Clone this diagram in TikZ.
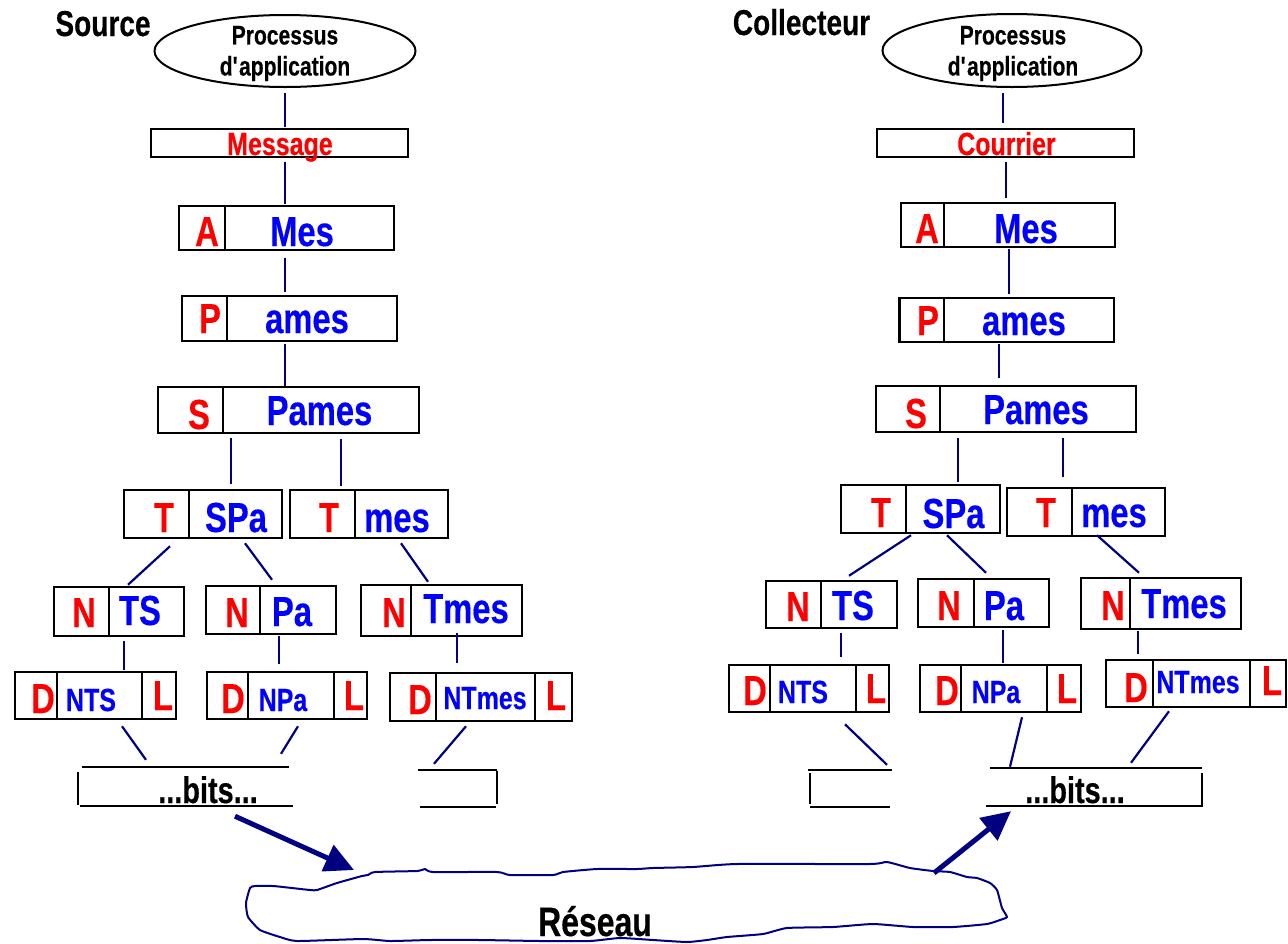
\documentclass[tikz,border=0pt]{standalone}
\usepackage{fontspec}
\setmainfont{Liberation Sans}[FakeStretch=0.78,FakeBold=0.35]
\usetikzlibrary{shapes.geometric,arrows.meta,calc}
\definecolor{navy}{RGB}{0,0,128}
\definecolor{pred}{RGB}{255,0,0}
\definecolor{pblue}{RGB}{0,0,255}
\newcommand\pbox[5]{\node[pbox, minimum width={(#4)-(#2)}, minimum height={(#5)-(#3)}] (#1) at ({((#2)+(#4))/2},{((#3)+(#5))/2}) {};}
\newcommand\pdiv[3]{\draw[pdiv] (#1,#2) -- (#1,#3);}
\begin{document}
\begin{tikzpicture}[x=1pt,y=-1pt,
  pbox/.style={draw=black, line width=2.5pt, inner sep=0pt, rectangle},
  pdiv/.style={draw=black, line width=2pt},
  frame/.style={draw=black, line width=2.5pt},
  conn/.style={draw=navy, line width=2.2pt},
  hR/.style={text=pred, font=\fontsize{42}{42}\selectfont\bfseries, inner sep=0pt, anchor=base},
  pB/.style={text=pblue, font=\fontsize{42}{42}\selectfont\bfseries, inner sep=0pt, anchor=base},
  sB/.style={text=pblue, font=\fontsize{32}{32}\selectfont\bfseries, inner sep=0pt, anchor=base},
  msg/.style={text=pred, font=\fontsize{32}{32}\selectfont\bfseries, inner sep=0pt, anchor=base},
  lbl/.style={text=black, font=\fontsize{36}{36}\selectfont\bfseries, inner sep=0pt, anchor=base},
  proc/.style={text=black, font=\fontsize{27}{31}\selectfont\bfseries, inner sep=0pt, align=center},
  bitst/.style={text=black, font=\fontsize{37}{37}\selectfont\bfseries, inner sep=0pt, anchor=base},
  nett/.style={text=black, font=\fontsize{41}{41}\selectfont\bfseries, inner sep=0pt, anchor=base},
  ell/.style={ellipse, draw=black, line width=2pt, inner sep=0pt},
  hidden/.style={inner sep=0pt, rectangle},
  bigarrow/.style={draw=navy, line width=5pt, -{Triangle[length=29pt,width=28pt]}}
]
\useasboundingbox (0,0) rectangle (1288,943);

% ================= LEFT : Source =================
\node[lbl] (srcL) at (103,36) {Source};
\node[ell, minimum width=261, minimum height=72] (ellL) at (285,51) {};
\node[proc] (procL) at (285,53.5) {Processus\\d\textquotesingle application};

\pbox{msgL}{151}{129}{408}{157}
\node[msg] (msgLt) at (280,155) {Message};

\pbox{aL}{179}{206}{394}{250}  \pdiv{225}{206}{250}
\node[hR] (aLh) at (207,246) {A};  \node[pB] (aLp) at (302,246) {Mes};

\pbox{pL}{182}{296}{397}{341}  \pdiv{227}{296}{341}
\node[hR] (pLh) at (210,333) {P};  \node[pB] (pLp) at (307,333) {ames};

\pbox{sL}{158}{387}{419}{433}  \pdiv{223}{387}{433}
\node[hR] (sLh) at (199,429) {S};  \node[pB] (sLp) at (319.5,425) {Pames};

\pbox{tsL}{124}{490}{282}{538}  \pdiv{189}{490}{538}
\node[hR] (tsLh) at (164,532) {T};  \node[pB] (tsLp) at (236,532) {SPa};
\pbox{tmL}{290}{490}{448}{538}  \pdiv{355}{490}{538}
\node[hR] (tmLh) at (329,532) {T};  \node[pB] (tmLp) at (397,532) {mes};

\pbox{ntsL}{54}{587}{184}{636}  \pdiv{109}{587}{636}
\node[hR] (ntsLh) at (84,627) {N};  \node[pB] (ntsLp) at (140,625) {TS};
\pbox{npaL}{206}{586}{336}{634}  \pdiv{260}{586}{634}
\node[hR] (npaLh) at (237,627) {N};  \node[pB] (npaLp) at (292,626) {Pa};
\pbox{ntmL}{361}{585}{522}{636}  \pdiv{411}{585}{636}
\node[hR] (ntmLh) at (394,627) {N};  \node[pB] (ntmLp) at (466,623) {Tmes};

\pbox{dntsL}{15}{672}{176}{719}  \pdiv{57}{672}{719} \pdiv{142}{672}{719}
\node[hR] (dntsLd) at (43,713) {D};  \node[sB] (dntsLp) at (91,711) {NTS};  \node[hR] (dntsLl) at (163,710) {L};
\pbox{dnpaL}{207}{672}{367}{719}  \pdiv{248}{672}{719} \pdiv{334}{672}{719}
\node[hR] (dnpaLd) at (233,713) {D};  \node[sB] (dnpaLp) at (283,711) {NPa};  \node[hR] (dnpaLl) at (354,710) {L};
\pbox{dntmL}{390}{673}{572}{721}  \pdiv{436}{673}{721} \pdiv{535}{673}{721}
\node[hR] (dntmLd) at (420,714) {D};  \node[sB] (dntmLp) at (485,709) {NTmes};  \node[hR] (dntmLl) at (556,710) {L};

\node[hidden, minimum width=213, minimum height=39] (bitsL) at (186.5,786.5) {};
\draw[frame] (82,767) -- (289,767);
\draw[frame] (78,772) -- (78,805);
\draw[frame] (80,806) -- (293,806);
\node[bitst] (bitsLt) at (208,803) {...bits...};
\node[hidden, minimum width=79, minimum height=37] (smallL) at (457.5,788.5) {};
\draw[frame] (418,770) -- (497,770);
\draw[frame] (497,771) -- (497,804);
\draw[frame] (420,807) -- (496,807);

% connectors left
\draw[conn] ($(ellL.south)+(0,5)$) -- ($(msgL.north)+(5.5,-1)$);
\draw[conn] ($(msgL.south)+(5.5,4)$) -- ($(aL.north)+(-1.5,-1)$);
\draw[conn] ($(aL.south)+(-1.5,7)$) -- ($(pL.north)+(-4.5,-3)$);
\draw[conn] ($(pL.south)+(-4.5,2)$) -- ($(sL.north)+(-3.5,0)$);
\draw[conn] ($(sL.south)+(-57.5,4)$) -- ($(tsL.north)+(28,-5)$);
\draw[conn] ($(sL.south)+(52.5,5)$) -- ($(tmL.north)+(-28,-3)$);
\draw[conn] ($(tsL.south)+(-33,7)$) -- ($(ntsL.north)+(9,-1)$);
\draw[conn] ($(tsL.south)+(42,4)$) -- ($(npaL.north)+(1,-5)$);
\draw[conn] ($(tmL.south)+(32,4)$) -- ($(ntmL.north)+(-13.5,-2)$);
\draw[conn] ($(ntsL.south)+(5,4)$) -- ($(dntsL.north)+(28.5,-1)$);
\draw[conn] ($(npaL.south)+(8,1)$) -- ($(dnpaL.north)+(-8,-7)$);
\draw[conn] ($(ntmL.south)+(15.5,-4)$) -- ($(dntmL.north)+(-24,-9)$);
\draw[conn] ($(dntsL.south)+(26.5,6)$) -- ($(bitsL.north)+(-40.5,-7)$);
\draw[conn] ($(dnpaL.south)+(11,6)$) -- ($(bitsL.north)+(94.5,-13)$);
\draw[conn] ($(dntmL.south)+(-15,4)$) -- ($(smallL.north)+(-23.5,-6)$);

% ================= RIGHT : Collecteur =================
\node[lbl] (srcR) at (801.5,35) {Collecteur};
\node[ell, minimum width=259, minimum height=73] (ellR) at (1012,50.5) {};
\node[proc] (procR) at (1013,53.5) {Processus\\d\textquotesingle application};

\pbox{msgR}{877}{129}{1134}{157}
\node[msg] (msgRt) at (1006.5,155) {Courrier};

\pbox{aR}{901}{203}{1115}{247}  \pdiv{944}{203}{247}
\node[hR] (aRh) at (927,243) {A};  \node[pB] (aRp) at (1026,243) {Mes};

\pbox{pR}{899.5}{298}{1114}{342}  \pdiv{944}{298}{342}
\node[hR] (pRh) at (928,335) {P};  \node[pB] (pRp) at (1024,335) {ames};

\pbox{sR}{876}{386}{1136}{432}  \pdiv{940}{386}{432}
\node[hR] (sRh) at (916,428) {S};  \node[pB] (sRp) at (1036,424) {Pames};

\pbox{tsR}{841}{485}{1000}{533}  \pdiv{906}{485}{533}
\node[hR] (tsRh) at (881,527) {T};  \node[pB] (tsRp) at (953.5,528) {SPa};
\pbox{tmR}{1007}{488}{1165}{536}  \pdiv{1072}{488}{536}
\node[hR] (tmRh) at (1046,527) {T};  \node[pB] (tmRp) at (1114,527) {mes};

\pbox{ntsR}{766}{581}{897}{628}  \pdiv{821}{581}{628}
\node[hR] (ntsRh) at (798,621) {N};  \node[pB] (ntsRp) at (853,620) {TS};
\pbox{npaR}{918}{579}{1049}{627}  \pdiv{974}{579}{627}
\node[hR] (npaRh) at (949,620) {N};  \node[pB] (npaRp) at (1004,620) {Pa};
\pbox{ntmR}{1081}{578}{1241}{629}  \pdiv{1130}{578}{629}
\node[hR] (ntmRh) at (1113,620) {N};  \node[pB] (ntmRp) at (1184,618) {Tmes};

\pbox{dntsR}{729}{665}{889}{712}  \pdiv{770}{665}{712} \pdiv{856}{665}{712}
\node[hR] (dntsRd) at (755,705) {D};  \node[sB] (dntsRp) at (803,703) {NTS};  \node[hR] (dntsRl) at (876,703) {L};
\pbox{dnpaR}{920}{665}{1081}{712}  \pdiv{961}{665}{712} \pdiv{1047}{665}{712}
\node[hR] (dnpaRd) at (947,705) {D};  \node[sB] (dnpaRp) at (996,703) {NPa};  \node[hR] (dnpaRl) at (1067,703) {L};
\pbox{dntmR}{1106}{660}{1286}{707}  \pdiv{1153}{660}{707} \pdiv{1250}{660}{707}
\node[hR] (dntmRd) at (1136,702) {D};  \node[sB] (dntmRp) at (1198,693) {NTmes};  \node[hR] (dntmRl) at (1272,695) {L};

\node[hidden, minimum width=84, minimum height=37] (smallR) at (850,788.5) {};
\draw[frame] (808,770) -- (892,770);
\draw[frame] (810,773) -- (810,804);
\draw[frame] (810,807) -- (890,807);
\node[hidden, minimum width=217, minimum height=38] (bitsR) at (1094.5,787) {};
\draw[frame] (990,768) -- (1202,768);
\draw[frame] (1202,773) -- (1202,806);
\draw[frame] (986,806) -- (1203,806);
\node[bitst] (bitsRt) at (1075,803) {...bits...};

% connectors right
\draw[conn] ($(ellR.south)+(-9,5)$) -- ($(msgR.north)+(-2.5,-5)$);
\draw[conn] ($(msgR.south)+(0.5,4)$) -- ($(aR.north)+(-2,-4)$);
\draw[conn] ($(aR.south)+(1,1)$) -- ($(pR.north)+(2.25,-3)$);
\draw[conn] ($(pR.south)+(-7.75,1)$) -- ($(sR.north)+(-7,-7)$);
\draw[conn] ($(sR.south)+(-48,5)$) -- ($(tsR.north)+(37.5,-2)$);
\draw[conn] ($(sR.south)+(57,5)$) -- ($(tmR.north)+(-23,-10)$);
\draw[conn] ($(tsR.south)+(-9.5,1)$) -- ($(ntsR.north)+(17.5,-4)$);
\draw[conn] ($(tsR.south)+(26.5,1)$) -- ($(npaR.north)+(2.5,-5)$);
\draw[conn] ($(tmR.south)+(11,-2)$) -- ($(ntmR.north)+(-22,-4)$);
\draw[conn] ($(ntsR.south)+(9.5,4)$) -- ($(dntsR.north)+(32,-7)$);
\draw[conn] ($(npaR.south)+(19.5,2)$) -- ($(dnpaR.north)+(2.5,-1)$);
\draw[conn] ($(ntmR.south)+(-23,1)$) -- ($(dntmR.north)+(-58,-5)$);
\draw[conn] ($(dntsR.south)+(36,11)$) -- ($(smallR.north)+(37,-5)$);
\draw[conn] ($(dnpaR.south)+(21.5,4)$) -- ($(bitsR.north)+(-84.5,-1)$);
\draw[conn] ($(dntmR.south)+(-27,3)$) -- ($(bitsR.north)+(36.5,-5)$);

% ================= Network cloud =================
\draw[navy, line width=2pt] plot[smooth cycle, tension=0.3] coordinates {
 (255,886) (273,886) (283,887) (310,890) (317,890) (337,883) (362,876) (368,875)
 (375,872) (417,871) (425,869) (433,872) (497,872) (510,875) (553,875) (563,872)
 (597,869) (637,869) (653,868) (693,867) (737,864) (870,864) (887,862) (910,868)
 (933,871) (950,872) (967,877) (977,878) (990,883) (997,890) (1002,908) (1007,917)
 (1000,920) (987,924) (953,927) (913,927) (873,924) (833,927) (787,928) (763,934)
 (727,937) (707,940) (687,942) (653,940) (620,938) (590,941) (540,941) (480,940)
 (430,940) (390,941) (363,939) (297,941) (280,937) (260,930) (248,917) (246,903)
 (250,888)};
\coordinate (netL) at (354,870);
\coordinate (netR) at (934,873);
\node[nett] (reseau) at (595,936) {Réseau};

\draw[bigarrow] ($(bitsL.south)+(48.5,10)$) -- (netL);
\draw[bigarrow] (netR) -- ($(bitsR.south)+(-83.5,5)$);
\end{tikzpicture}
\end{document}
